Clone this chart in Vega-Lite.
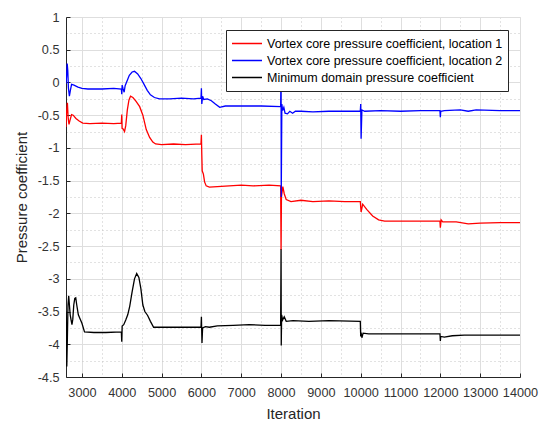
{
  "$schema": "https://vega.github.io/schema/vega-lite/v6.json",
  "width": 454,
  "height": 360,
  "autosize": "none",
  "padding": {"left": 66, "top": 17, "right": 23, "bottom": 46},
  "background": "white",
  "config": {
    "font": "Liberation Sans",
    "view": {"stroke": "#dedede"}
  },
  "data": {
    "values": [
      {"it": 2600, "cp": -0.68, "s": "Vortex core pressure coefficient, location 1"},
      {"it": 2615, "cp": -0.45, "s": "Vortex core pressure coefficient, location 1"},
      {"it": 2635, "cp": -0.31, "s": "Vortex core pressure coefficient, location 1"},
      {"it": 2655, "cp": -0.55, "s": "Vortex core pressure coefficient, location 1"},
      {"it": 2675, "cp": -0.64, "s": "Vortex core pressure coefficient, location 1"},
      {"it": 2700, "cp": -0.58, "s": "Vortex core pressure coefficient, location 1"},
      {"it": 2740, "cp": -0.49, "s": "Vortex core pressure coefficient, location 1"},
      {"it": 2780, "cp": -0.50, "s": "Vortex core pressure coefficient, location 1"},
      {"it": 2850, "cp": -0.55, "s": "Vortex core pressure coefficient, location 1"},
      {"it": 2930, "cp": -0.59, "s": "Vortex core pressure coefficient, location 1"},
      {"it": 3020, "cp": -0.62, "s": "Vortex core pressure coefficient, location 1"},
      {"it": 3200, "cp": -0.63, "s": "Vortex core pressure coefficient, location 1"},
      {"it": 3500, "cp": -0.62, "s": "Vortex core pressure coefficient, location 1"},
      {"it": 3800, "cp": -0.63, "s": "Vortex core pressure coefficient, location 1"},
      {"it": 3990, "cp": -0.62, "s": "Vortex core pressure coefficient, location 1"},
      {"it": 4000, "cp": -0.49, "s": "Vortex core pressure coefficient, location 1"},
      {"it": 4008, "cp": -0.70, "s": "Vortex core pressure coefficient, location 1"},
      {"it": 4035, "cp": -0.71, "s": "Vortex core pressure coefficient, location 1"},
      {"it": 4070, "cp": -0.75, "s": "Vortex core pressure coefficient, location 1"},
      {"it": 4100, "cp": -0.66, "s": "Vortex core pressure coefficient, location 1"},
      {"it": 4140, "cp": -0.42, "s": "Vortex core pressure coefficient, location 1"},
      {"it": 4180, "cp": -0.27, "s": "Vortex core pressure coefficient, location 1"},
      {"it": 4220, "cp": -0.21, "s": "Vortex core pressure coefficient, location 1"},
      {"it": 4280, "cp": -0.23, "s": "Vortex core pressure coefficient, location 1"},
      {"it": 4360, "cp": -0.29, "s": "Vortex core pressure coefficient, location 1"},
      {"it": 4450, "cp": -0.37, "s": "Vortex core pressure coefficient, location 1"},
      {"it": 4530, "cp": -0.50, "s": "Vortex core pressure coefficient, location 1"},
      {"it": 4615, "cp": -0.72, "s": "Vortex core pressure coefficient, location 1"},
      {"it": 4700, "cp": -0.84, "s": "Vortex core pressure coefficient, location 1"},
      {"it": 4780, "cp": -0.91, "s": "Vortex core pressure coefficient, location 1"},
      {"it": 4850, "cp": -0.94, "s": "Vortex core pressure coefficient, location 1"},
      {"it": 5000, "cp": -0.95, "s": "Vortex core pressure coefficient, location 1"},
      {"it": 5300, "cp": -0.94, "s": "Vortex core pressure coefficient, location 1"},
      {"it": 5600, "cp": -0.95, "s": "Vortex core pressure coefficient, location 1"},
      {"it": 5990, "cp": -0.94, "s": "Vortex core pressure coefficient, location 1"},
      {"it": 6000, "cp": -0.80, "s": "Vortex core pressure coefficient, location 1"},
      {"it": 6010, "cp": -1.10, "s": "Vortex core pressure coefficient, location 1"},
      {"it": 6020, "cp": -1.35, "s": "Vortex core pressure coefficient, location 1"},
      {"it": 6050, "cp": -1.40, "s": "Vortex core pressure coefficient, location 1"},
      {"it": 6080, "cp": -1.52, "s": "Vortex core pressure coefficient, location 1"},
      {"it": 6120, "cp": -1.58, "s": "Vortex core pressure coefficient, location 1"},
      {"it": 6200, "cp": -1.60, "s": "Vortex core pressure coefficient, location 1"},
      {"it": 6400, "cp": -1.59, "s": "Vortex core pressure coefficient, location 1"},
      {"it": 6700, "cp": -1.58, "s": "Vortex core pressure coefficient, location 1"},
      {"it": 7000, "cp": -1.57, "s": "Vortex core pressure coefficient, location 1"},
      {"it": 7300, "cp": -1.58, "s": "Vortex core pressure coefficient, location 1"},
      {"it": 7700, "cp": -1.57, "s": "Vortex core pressure coefficient, location 1"},
      {"it": 7990, "cp": -1.58, "s": "Vortex core pressure coefficient, location 1"},
      {"it": 8000, "cp": -2.56, "s": "Vortex core pressure coefficient, location 1"},
      {"it": 8010, "cp": -1.75, "s": "Vortex core pressure coefficient, location 1"},
      {"it": 8045, "cp": -1.59, "s": "Vortex core pressure coefficient, location 1"},
      {"it": 8080, "cp": -1.70, "s": "Vortex core pressure coefficient, location 1"},
      {"it": 8130, "cp": -1.79, "s": "Vortex core pressure coefficient, location 1"},
      {"it": 8250, "cp": -1.82, "s": "Vortex core pressure coefficient, location 1"},
      {"it": 8500, "cp": -1.80, "s": "Vortex core pressure coefficient, location 1"},
      {"it": 8800, "cp": -1.82, "s": "Vortex core pressure coefficient, location 1"},
      {"it": 9200, "cp": -1.81, "s": "Vortex core pressure coefficient, location 1"},
      {"it": 9600, "cp": -1.82, "s": "Vortex core pressure coefficient, location 1"},
      {"it": 9990, "cp": -1.82, "s": "Vortex core pressure coefficient, location 1"},
      {"it": 10010, "cp": -1.98, "s": "Vortex core pressure coefficient, location 1"},
      {"it": 10050, "cp": -1.86, "s": "Vortex core pressure coefficient, location 1"},
      {"it": 10150, "cp": -1.94, "s": "Vortex core pressure coefficient, location 1"},
      {"it": 10300, "cp": -2.04, "s": "Vortex core pressure coefficient, location 1"},
      {"it": 10450, "cp": -2.10, "s": "Vortex core pressure coefficient, location 1"},
      {"it": 10600, "cp": -2.12, "s": "Vortex core pressure coefficient, location 1"},
      {"it": 11000, "cp": -2.12, "s": "Vortex core pressure coefficient, location 1"},
      {"it": 11500, "cp": -2.12, "s": "Vortex core pressure coefficient, location 1"},
      {"it": 11990, "cp": -2.12, "s": "Vortex core pressure coefficient, location 1"},
      {"it": 12000, "cp": -2.22, "s": "Vortex core pressure coefficient, location 1"},
      {"it": 12020, "cp": -2.10, "s": "Vortex core pressure coefficient, location 1"},
      {"it": 12060, "cp": -2.13, "s": "Vortex core pressure coefficient, location 1"},
      {"it": 12400, "cp": -2.13, "s": "Vortex core pressure coefficient, location 1"},
      {"it": 12700, "cp": -2.16, "s": "Vortex core pressure coefficient, location 1"},
      {"it": 13000, "cp": -2.15, "s": "Vortex core pressure coefficient, location 1"},
      {"it": 13500, "cp": -2.14, "s": "Vortex core pressure coefficient, location 1"},
      {"it": 14000, "cp": -2.14, "s": "Vortex core pressure coefficient, location 1"},

      {"it": 2600, "cp": -0.02, "s": "Vortex core pressure coefficient, location 2"},
      {"it": 2615, "cp": 0.10, "s": "Vortex core pressure coefficient, location 2"},
      {"it": 2630, "cp": 0.29, "s": "Vortex core pressure coefficient, location 2"},
      {"it": 2645, "cp": 0.18, "s": "Vortex core pressure coefficient, location 2"},
      {"it": 2660, "cp": -0.08, "s": "Vortex core pressure coefficient, location 2"},
      {"it": 2685, "cp": -0.21, "s": "Vortex core pressure coefficient, location 2"},
      {"it": 2710, "cp": -0.12, "s": "Vortex core pressure coefficient, location 2"},
      {"it": 2740, "cp": -0.03, "s": "Vortex core pressure coefficient, location 2"},
      {"it": 2800, "cp": -0.04, "s": "Vortex core pressure coefficient, location 2"},
      {"it": 2900, "cp": -0.07, "s": "Vortex core pressure coefficient, location 2"},
      {"it": 3000, "cp": -0.09, "s": "Vortex core pressure coefficient, location 2"},
      {"it": 3150, "cp": -0.10, "s": "Vortex core pressure coefficient, location 2"},
      {"it": 3500, "cp": -0.10, "s": "Vortex core pressure coefficient, location 2"},
      {"it": 3800, "cp": -0.09, "s": "Vortex core pressure coefficient, location 2"},
      {"it": 3990, "cp": -0.10, "s": "Vortex core pressure coefficient, location 2"},
      {"it": 4000, "cp": -0.18, "s": "Vortex core pressure coefficient, location 2"},
      {"it": 4010, "cp": -0.04, "s": "Vortex core pressure coefficient, location 2"},
      {"it": 4035, "cp": -0.10, "s": "Vortex core pressure coefficient, location 2"},
      {"it": 4060, "cp": -0.15, "s": "Vortex core pressure coefficient, location 2"},
      {"it": 4085, "cp": -0.05, "s": "Vortex core pressure coefficient, location 2"},
      {"it": 4130, "cp": 0.02, "s": "Vortex core pressure coefficient, location 2"},
      {"it": 4190, "cp": 0.11, "s": "Vortex core pressure coefficient, location 2"},
      {"it": 4260, "cp": 0.16, "s": "Vortex core pressure coefficient, location 2"},
      {"it": 4320, "cp": 0.17, "s": "Vortex core pressure coefficient, location 2"},
      {"it": 4400, "cp": 0.13, "s": "Vortex core pressure coefficient, location 2"},
      {"it": 4480, "cp": 0.06, "s": "Vortex core pressure coefficient, location 2"},
      {"it": 4560, "cp": -0.03, "s": "Vortex core pressure coefficient, location 2"},
      {"it": 4640, "cp": -0.12, "s": "Vortex core pressure coefficient, location 2"},
      {"it": 4720, "cp": -0.19, "s": "Vortex core pressure coefficient, location 2"},
      {"it": 4820, "cp": -0.23, "s": "Vortex core pressure coefficient, location 2"},
      {"it": 4950, "cp": -0.25, "s": "Vortex core pressure coefficient, location 2"},
      {"it": 5200, "cp": -0.25, "s": "Vortex core pressure coefficient, location 2"},
      {"it": 5500, "cp": -0.24, "s": "Vortex core pressure coefficient, location 2"},
      {"it": 5800, "cp": -0.25, "s": "Vortex core pressure coefficient, location 2"},
      {"it": 5990, "cp": -0.24, "s": "Vortex core pressure coefficient, location 2"},
      {"it": 6000, "cp": -0.09, "s": "Vortex core pressure coefficient, location 2"},
      {"it": 6010, "cp": -0.33, "s": "Vortex core pressure coefficient, location 2"},
      {"it": 6030, "cp": -0.21, "s": "Vortex core pressure coefficient, location 2"},
      {"it": 6060, "cp": -0.26, "s": "Vortex core pressure coefficient, location 2"},
      {"it": 6150, "cp": -0.25, "s": "Vortex core pressure coefficient, location 2"},
      {"it": 6250, "cp": -0.28, "s": "Vortex core pressure coefficient, location 2"},
      {"it": 6350, "cp": -0.33, "s": "Vortex core pressure coefficient, location 2"},
      {"it": 6460, "cp": -0.38, "s": "Vortex core pressure coefficient, location 2"},
      {"it": 6600, "cp": -0.36, "s": "Vortex core pressure coefficient, location 2"},
      {"it": 7000, "cp": -0.36, "s": "Vortex core pressure coefficient, location 2"},
      {"it": 7500, "cp": -0.36, "s": "Vortex core pressure coefficient, location 2"},
      {"it": 7990, "cp": -0.37, "s": "Vortex core pressure coefficient, location 2"},
      {"it": 8000, "cp": 0.20, "s": "Vortex core pressure coefficient, location 2"},
      {"it": 8005, "cp": -1.75, "s": "Vortex core pressure coefficient, location 2"},
      {"it": 8020, "cp": -0.33, "s": "Vortex core pressure coefficient, location 2"},
      {"it": 8040, "cp": -0.43, "s": "Vortex core pressure coefficient, location 2"},
      {"it": 8070, "cp": -0.38, "s": "Vortex core pressure coefficient, location 2"},
      {"it": 8100, "cp": -0.47, "s": "Vortex core pressure coefficient, location 2"},
      {"it": 8160, "cp": -0.48, "s": "Vortex core pressure coefficient, location 2"},
      {"it": 8220, "cp": -0.44, "s": "Vortex core pressure coefficient, location 2"},
      {"it": 8290, "cp": -0.47, "s": "Vortex core pressure coefficient, location 2"},
      {"it": 8360, "cp": -0.44, "s": "Vortex core pressure coefficient, location 2"},
      {"it": 8500, "cp": -0.44, "s": "Vortex core pressure coefficient, location 2"},
      {"it": 8800, "cp": -0.45, "s": "Vortex core pressure coefficient, location 2"},
      {"it": 9200, "cp": -0.44, "s": "Vortex core pressure coefficient, location 2"},
      {"it": 9600, "cp": -0.44, "s": "Vortex core pressure coefficient, location 2"},
      {"it": 9990, "cp": -0.44, "s": "Vortex core pressure coefficient, location 2"},
      {"it": 10000, "cp": -0.33, "s": "Vortex core pressure coefficient, location 2"},
      {"it": 10010, "cp": -0.86, "s": "Vortex core pressure coefficient, location 2"},
      {"it": 10030, "cp": -0.42, "s": "Vortex core pressure coefficient, location 2"},
      {"it": 10100, "cp": -0.44, "s": "Vortex core pressure coefficient, location 2"},
      {"it": 10500, "cp": -0.43, "s": "Vortex core pressure coefficient, location 2"},
      {"it": 11000, "cp": -0.44, "s": "Vortex core pressure coefficient, location 2"},
      {"it": 11500, "cp": -0.43, "s": "Vortex core pressure coefficient, location 2"},
      {"it": 11990, "cp": -0.43, "s": "Vortex core pressure coefficient, location 2"},
      {"it": 12000, "cp": -0.53, "s": "Vortex core pressure coefficient, location 2"},
      {"it": 12010, "cp": -0.44, "s": "Vortex core pressure coefficient, location 2"},
      {"it": 12100, "cp": -0.43, "s": "Vortex core pressure coefficient, location 2"},
      {"it": 12500, "cp": -0.42, "s": "Vortex core pressure coefficient, location 2"},
      {"it": 12700, "cp": -0.44, "s": "Vortex core pressure coefficient, location 2"},
      {"it": 12900, "cp": -0.42, "s": "Vortex core pressure coefficient, location 2"},
      {"it": 13500, "cp": -0.43, "s": "Vortex core pressure coefficient, location 2"},
      {"it": 14000, "cp": -0.43, "s": "Vortex core pressure coefficient, location 2"},

      {"it": 2600, "cp": -3.50, "s": "Minimum domain pressure coefficient"},
      {"it": 2610, "cp": -3.70, "s": "Minimum domain pressure coefficient"},
      {"it": 2620, "cp": -4.34, "s": "Minimum domain pressure coefficient"},
      {"it": 2635, "cp": -3.90, "s": "Minimum domain pressure coefficient"},
      {"it": 2650, "cp": -3.40, "s": "Minimum domain pressure coefficient"},
      {"it": 2668, "cp": -3.26, "s": "Minimum domain pressure coefficient"},
      {"it": 2688, "cp": -3.42, "s": "Minimum domain pressure coefficient"},
      {"it": 2705, "cp": -3.55, "s": "Minimum domain pressure coefficient"},
      {"it": 2725, "cp": -3.62, "s": "Minimum domain pressure coefficient"},
      {"it": 2750, "cp": -3.70, "s": "Minimum domain pressure coefficient"},
      {"it": 2770, "cp": -3.62, "s": "Minimum domain pressure coefficient"},
      {"it": 2795, "cp": -3.40, "s": "Minimum domain pressure coefficient"},
      {"it": 2820, "cp": -3.30, "s": "Minimum domain pressure coefficient"},
      {"it": 2845, "cp": -3.29, "s": "Minimum domain pressure coefficient"},
      {"it": 2870, "cp": -3.40, "s": "Minimum domain pressure coefficient"},
      {"it": 2910, "cp": -3.55, "s": "Minimum domain pressure coefficient"},
      {"it": 2960, "cp": -3.62, "s": "Minimum domain pressure coefficient"},
      {"it": 3000, "cp": -3.68, "s": "Minimum domain pressure coefficient"},
      {"it": 3065, "cp": -3.81, "s": "Minimum domain pressure coefficient"},
      {"it": 3300, "cp": -3.82, "s": "Minimum domain pressure coefficient"},
      {"it": 3600, "cp": -3.82, "s": "Minimum domain pressure coefficient"},
      {"it": 3990, "cp": -3.81, "s": "Minimum domain pressure coefficient"},
      {"it": 4000, "cp": -3.96, "s": "Minimum domain pressure coefficient"},
      {"it": 4010, "cp": -3.72, "s": "Minimum domain pressure coefficient"},
      {"it": 4050, "cp": -3.70, "s": "Minimum domain pressure coefficient"},
      {"it": 4100, "cp": -3.63, "s": "Minimum domain pressure coefficient"},
      {"it": 4150, "cp": -3.55, "s": "Minimum domain pressure coefficient"},
      {"it": 4200, "cp": -3.42, "s": "Minimum domain pressure coefficient"},
      {"it": 4260, "cp": -3.20, "s": "Minimum domain pressure coefficient"},
      {"it": 4320, "cp": -3.00, "s": "Minimum domain pressure coefficient"},
      {"it": 4375, "cp": -2.92, "s": "Minimum domain pressure coefficient"},
      {"it": 4430, "cp": -2.98, "s": "Minimum domain pressure coefficient"},
      {"it": 4480, "cp": -3.15, "s": "Minimum domain pressure coefficient"},
      {"it": 4530, "cp": -3.40, "s": "Minimum domain pressure coefficient"},
      {"it": 4580, "cp": -3.50, "s": "Minimum domain pressure coefficient"},
      {"it": 4650, "cp": -3.56, "s": "Minimum domain pressure coefficient"},
      {"it": 4720, "cp": -3.65, "s": "Minimum domain pressure coefficient"},
      {"it": 4800, "cp": -3.74, "s": "Minimum domain pressure coefficient"},
      {"it": 5000, "cp": -3.74, "s": "Minimum domain pressure coefficient"},
      {"it": 5500, "cp": -3.74, "s": "Minimum domain pressure coefficient"},
      {"it": 5990, "cp": -3.74, "s": "Minimum domain pressure coefficient"},
      {"it": 6000, "cp": -3.58, "s": "Minimum domain pressure coefficient"},
      {"it": 6015, "cp": -3.98, "s": "Minimum domain pressure coefficient"},
      {"it": 6030, "cp": -3.75, "s": "Minimum domain pressure coefficient"},
      {"it": 6100, "cp": -3.73, "s": "Minimum domain pressure coefficient"},
      {"it": 6200, "cp": -3.74, "s": "Minimum domain pressure coefficient"},
      {"it": 6400, "cp": -3.72, "s": "Minimum domain pressure coefficient"},
      {"it": 6800, "cp": -3.71, "s": "Minimum domain pressure coefficient"},
      {"it": 7200, "cp": -3.70, "s": "Minimum domain pressure coefficient"},
      {"it": 7600, "cp": -3.71, "s": "Minimum domain pressure coefficient"},
      {"it": 7990, "cp": -3.71, "s": "Minimum domain pressure coefficient"},
      {"it": 8000, "cp": -2.55, "s": "Minimum domain pressure coefficient"},
      {"it": 8005, "cp": -4.02, "s": "Minimum domain pressure coefficient"},
      {"it": 8015, "cp": -3.55, "s": "Minimum domain pressure coefficient"},
      {"it": 8040, "cp": -3.63, "s": "Minimum domain pressure coefficient"},
      {"it": 8080, "cp": -3.58, "s": "Minimum domain pressure coefficient"},
      {"it": 8130, "cp": -3.65, "s": "Minimum domain pressure coefficient"},
      {"it": 8300, "cp": -3.64, "s": "Minimum domain pressure coefficient"},
      {"it": 8700, "cp": -3.65, "s": "Minimum domain pressure coefficient"},
      {"it": 9200, "cp": -3.64, "s": "Minimum domain pressure coefficient"},
      {"it": 9990, "cp": -3.65, "s": "Minimum domain pressure coefficient"},
      {"it": 10000, "cp": -3.88, "s": "Minimum domain pressure coefficient"},
      {"it": 10010, "cp": -3.82, "s": "Minimum domain pressure coefficient"},
      {"it": 10030, "cp": -3.90, "s": "Minimum domain pressure coefficient"},
      {"it": 10060, "cp": -3.83, "s": "Minimum domain pressure coefficient"},
      {"it": 10200, "cp": -3.84, "s": "Minimum domain pressure coefficient"},
      {"it": 11000, "cp": -3.84, "s": "Minimum domain pressure coefficient"},
      {"it": 11990, "cp": -3.84, "s": "Minimum domain pressure coefficient"},
      {"it": 12000, "cp": -3.95, "s": "Minimum domain pressure coefficient"},
      {"it": 12010, "cp": -3.88, "s": "Minimum domain pressure coefficient"},
      {"it": 12100, "cp": -3.89, "s": "Minimum domain pressure coefficient"},
      {"it": 12300, "cp": -3.87, "s": "Minimum domain pressure coefficient"},
      {"it": 12600, "cp": -3.86, "s": "Minimum domain pressure coefficient"},
      {"it": 13000, "cp": -3.86, "s": "Minimum domain pressure coefficient"},
      {"it": 14000, "cp": -3.86, "s": "Minimum domain pressure coefficient"}
    ]
  },
  "encoding": {
    "x": {
      "field": "it",
      "type": "quantitative",
      "scale": {"domain": [2600, 14000], "nice": false, "zero": false},
      "axis": {
        "title": "Iteration",
        "values": [3000, 3500, 4000, 4500, 5000, 5500, 6000, 6500, 7000, 7500, 8000, 8500, 9000, 9500, 10000, 10500, 11000, 11500, 12000, 12500, 13000, 13500, 14000],
        "labelExpr": "datum.value % 1000 === 0 ? '' + datum.value : ''",
        "labelFlush": false,
        "labelOverlap": false,
        "labelFontSize": 12.7,
        "labelColor": "#333333",
        "labelPadding": 13,
        "tickSize": -4,
        "tickColor": "#262626",
        "tickOpacity": {"condition": {"test": "datum.value % 1000 === 0", "value": 1}, "value": 0},
        "domainColor": "#262626",
        "grid": true,
        "gridColor": {"condition": {"test": "datum.value % 1000 === 0", "value": "#dedede"}, "value": "#c4c4c4"},
        "gridDash": {"condition": {"test": "datum.value % 1000 === 0", "value": []}, "value": [1, 3]},
        "titleFontSize": 15,
        "titleFontWeight": "normal",
        "titleColor": "#262626",
        "titlePadding": 8
      }
    },
    "y": {
      "field": "cp",
      "type": "quantitative",
      "scale": {"domain": [-4.5, 1], "nice": false, "zero": false},
      "axis": {
        "title": "Pressure coefficient",
        "values": [-4.5, -4.25, -4, -3.75, -3.5, -3.25, -3, -2.75, -2.5, -2.25, -2, -1.75, -1.5, -1.25, -1, -0.75, -0.5, -0.25, 0, 0.25, 0.5, 0.75, 1],
        "labelExpr": "(datum.value * 2) % 1 === 0 ? '' + datum.value : ''",
        "labelFlush": false,
        "labelOverlap": false,
        "labelFontSize": 12.7,
        "labelColor": "#333333",
        "labelPadding": 11,
        "tickSize": -4,
        "tickColor": "#262626",
        "tickOpacity": {"condition": {"test": "(datum.value * 2) % 1 === 0", "value": 1}, "value": 0},
        "domainColor": "#262626",
        "grid": true,
        "gridColor": {"condition": {"test": "(datum.value * 2) % 1 === 0", "value": "#dedede"}, "value": "#c4c4c4"},
        "gridDash": {"condition": {"test": "(datum.value * 2) % 1 === 0", "value": []}, "value": [1, 3]},
        "titleFontSize": 15,
        "titleFontWeight": "normal",
        "titleColor": "#262626",
        "titlePadding": 8
      }
    },
    "color": {
      "field": "s",
      "type": "nominal",
      "scale": {
        "domain": ["Vortex core pressure coefficient, location 1", "Vortex core pressure coefficient, location 2", "Minimum domain pressure coefficient"],
        "range": ["#ff0000", "#0000ff", "#000000"]
      },
      "legend": {
        "title": null,
        "orient": "none",
        "legendX": 160,
        "legendY": 13,
        "symbolType": "stroke",
        "symbolSize": 900,
        "symbolStrokeWidth": 1.5,
        "labelFontSize": 12.5,
        "labelColor": "#000000",
        "labelLimit": 400,
        "labelOffset": 4,
        "padding": 5,
        "rowPadding": 0,
        "clipHeight": 17,
        "strokeColor": "#262626",
        "fillColor": "white"
      }
    },
    "order": {"value": null}
  },
  "layer": [
    {
      "transform": [{"filter": "datum.s === 'Vortex core pressure coefficient, location 1'"}],
      "mark": {"type": "line", "strokeWidth": 1.3, "clip": true}
    },
    {
      "transform": [{"filter": "datum.s === 'Vortex core pressure coefficient, location 2'"}],
      "mark": {"type": "line", "strokeWidth": 1.3, "clip": true}
    },
    {
      "transform": [{"filter": "datum.s === 'Minimum domain pressure coefficient'"}],
      "mark": {"type": "line", "strokeWidth": 1.3, "clip": true}
    }
  ]
}
